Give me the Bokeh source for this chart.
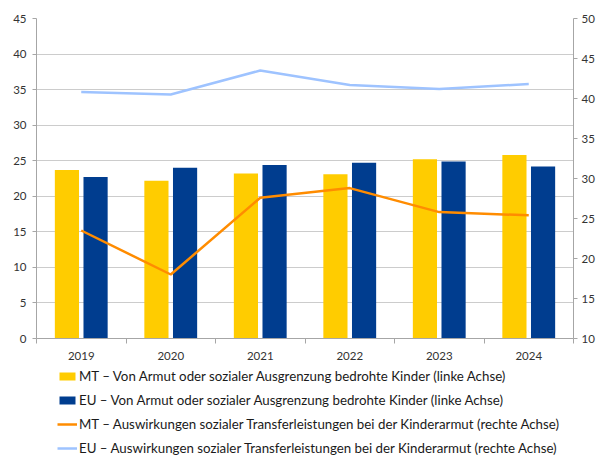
from bokeh.plotting import figure
from bokeh.layouts import column
from bokeh.models import (ColumnDataSource, Range1d, LinearAxis, FixedTicker,
                          Legend, LegendItem)
from bokeh.embed import file_html
from bokeh.resources import INLINE

years = ["2019", "2020", "2021", "2022", "2023", "2024"]
mt_armut = [23.7, 22.2, 23.2, 23.1, 25.2, 25.8]
eu_armut = [22.7, 24.0, 24.4, 24.7, 24.9, 24.2]
mt_transfer = [23.5, 18.0, 27.6, 28.8, 25.8, 25.4]
eu_transfer = [40.8, 40.5, 43.5, 41.7, 41.2, 41.8]
left_ticks = [0, 5, 10, 15, 20, 25, 30, 35, 40, 45]
right_ticks = [10, 15, 20, 25, 30, 35, 40, 45, 50]
labels = [
    "MT \u2013 Von Armut oder sozialer Ausgrenzung bedrohte Kinder (linke Achse)",
    "EU \u2013 Von Armut oder sozialer Ausgrenzung bedrohte Kinder (linke Achse)",
    "MT \u2013 Auswirkungen sozialer Transferleistungen bei der Kinderarmut (rechte Achse)",
    "EU \u2013 Auswirkungen sozialer Transferleistungen bei der Kinderarmut (rechte Achse)",
]

FONT = "Lato"
TXT = "#333333"
AX = "#a6a6a6"
C_MT_BAR, C_EU_BAR = "#FFCC00", "#003D8F"
C_MT_LINE, C_EU_LINE = "#FF8C00", "#9EC3FF"

xi = list(range(len(years)))
src = ColumnDataSource(dict(
    x=xi,
    x_mt=[v - 0.16 for v in xi],
    x_eu=[v + 0.16 for v in xi],
    mt_armut=mt_armut, eu_armut=eu_armut,
    mt_transfer=mt_transfer, eu_transfer=eu_transfer,
))

p = figure(width=597, height=366, output_backend="svg", toolbar_location=None,
           x_range=Range1d(-0.5, len(years) - 0.5),
           y_range=Range1d(left_ticks[0], left_ticks[-1]),
           min_border_left=36, min_border_right=23, min_border_top=18,
           min_border_bottom=28)
p.outline_line_color = None
p.extra_y_ranges = {"right": Range1d(right_ticks[0], right_ticks[-1])}

p.vbar(x="x_mt", top="mt_armut", width=0.27, source=src,
       fill_color=C_MT_BAR, line_color=None)
p.vbar(x="x_eu", top="eu_armut", width=0.27, source=src,
       fill_color=C_EU_BAR, line_color=None)
p.line(x="x", y="eu_transfer", source=src, y_range_name="right",
       line_color=C_EU_LINE, line_width=2.5)
p.line(x="x", y="mt_transfer", source=src, y_range_name="right",
       line_color=C_MT_LINE, line_width=2.5)

# grid
p.xgrid.grid_line_color = None
p.ygrid.grid_line_color = "#cccccc"
p.ygrid.ticker = FixedTicker(ticks=left_ticks)

# x axis
xa = p.xaxis[0]
xa.ticker = FixedTicker(ticks=xi, minor_ticks=[v - 0.5 for v in xi] + [xi[-1] + 0.5])
xa.major_label_overrides = {i: y for i, y in enumerate(years)}
xa.major_tick_out = 0
xa.major_tick_in = 0
xa.minor_tick_out = 5
xa.minor_tick_in = 0
xa.minor_tick_line_color = AX
xa.axis_line_color = AX
xa.major_label_standoff = 8

# left axis
ya = p.yaxis[0]
ya.ticker = FixedTicker(ticks=left_ticks)
ya.major_tick_out = 4
ya.major_tick_in = 0
ya.minor_tick_line_color = None
ya.axis_line_color = AX
ya.major_tick_line_color = AX
ya.major_label_standoff = 6

# right axis
ra = LinearAxis(y_range_name="right", ticker=FixedTicker(ticks=right_ticks))
ra.major_tick_out = 4
ra.major_tick_in = 0
ra.minor_tick_line_color = None
ra.axis_line_color = AX
ra.major_tick_line_color = AX
ra.major_label_standoff = 4
p.add_layout(ra, "right")

for ax in (xa, ya, ra):
    ax.major_label_text_font = FONT
    ax.major_label_text_font_size = "11.5px"
    ax.major_label_text_color = TXT

# legend panel below the chart (legend-only figure, swatch renderers are invisible)
q = figure(width=597, height=89, output_backend="svg", toolbar_location=None,
           x_range=Range1d(0, 1), y_range=Range1d(0, 1),
           min_border=0, x_axis_type=None, y_axis_type=None)
q.outline_line_color = None
q.grid.grid_line_color = None
swatch = ColumnDataSource(dict(x=[0], y=[0]))
l_mt = q.vbar(x="x", top="y", width=0.0, source=swatch, fill_color=C_MT_BAR, line_color=None)
l_eu = q.vbar(x="x", top="y", width=0.0, source=swatch, fill_color=C_EU_BAR, line_color=None)
l_mtt = q.line(x="x", y="y", source=swatch, line_color=C_MT_LINE, line_width=2.5)
l_eut = q.line(x="x", y="y", source=swatch, line_color=C_EU_LINE, line_width=2.5)

legend = Legend(items=[
    LegendItem(label=labels[0], renderers=[l_mt]),
    LegendItem(label=labels[1], renderers=[l_eu]),
    LegendItem(label=labels[2], renderers=[l_mtt]),
    LegendItem(label=labels[3], renderers=[l_eut]),
], location=(21, -2), orientation="vertical")
legend.label_text_font = FONT
legend.label_text_font_size = "13.3px"
legend.label_text_color = "#1a1a1a"
legend.glyph_width = 20
legend.glyph_height = 10
legend.label_standoff = 2
legend.label_height = 19
legend.spacing = 5
legend.padding = 0
legend.margin = 0
legend.border_line_color = None
legend.background_fill_alpha = 0
q.add_layout(legend, "center")

open("out.html", "w").write(file_html(column(p, q), INLINE))
